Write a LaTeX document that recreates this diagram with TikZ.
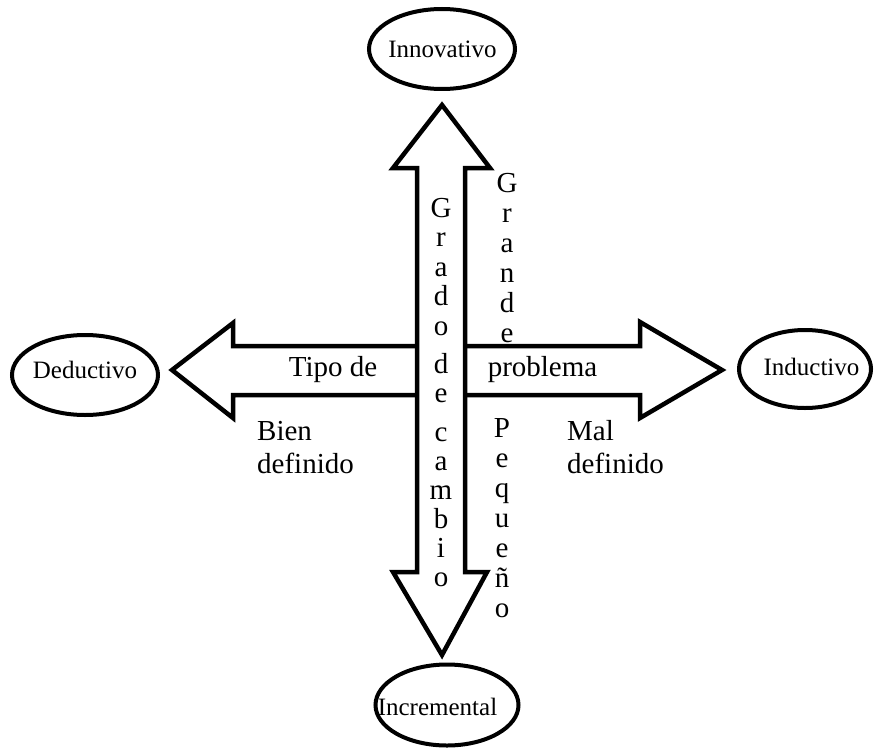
\documentclass[tikz,border=0pt]{standalone}
\usepackage{fontspec}
\setmainfont{Liberation Serif}
\usetikzlibrary{shapes.geometric}
\tikzset{
  blockarrow/.style={draw=black, fill=white, line width=4.5pt, line join=miter},
  pole/.style={draw=black, line width=4pt, ellipse, inner sep=0pt},
  poletext/.style={font=\fontsize{25}{30}\selectfont, inner sep=0pt, anchor=base},
  bigtext/.style={font=\fontsize{29}{35}\selectfont, inner sep=0pt, anchor=base},
}
\begin{document}
\begin{tikzpicture}[x=1pt, y=-1pt]
\useasboundingbox (0,0) rectangle (874,749);

% horizontal block arrow: type of problem
\path[blockarrow] (172,370) -- (233,323) -- (233,346) -- (640,346) -- (640,322)
  -- (722,370) -- (640,418) -- (640,395) -- (233,395) -- (233,418) -- cycle;

% vertical block arrow: degree of change (drawn on top)
\path[blockarrow] (442,105) -- (490,168) -- (465,168) -- (465,572) -- (487,572)
  -- (442,655) -- (393,572) -- (417,572) -- (417,168) -- (393,168) -- cycle;

% end poles
\node[pole, minimum width=146pt, minimum height=80pt] (inno) at (442,49) {};
\node[pole, minimum width=146pt, minimum height=80pt] (dedu) at (85,375) {};
\node[pole, minimum width=132pt, minimum height=78pt] (indu) at (805,369) {};
\node[pole, minimum width=143pt, minimum height=81pt] (incr) at (447,705) {};

\node[poletext] (innot) at (442.5,58) {Innovativo};
\node[poletext] (dedut) at (85,378) {Deductivo};
\node[poletext] (indut) at (811.5,375) {Inductivo};
\node[poletext] (incrt) at (437.5,715) {Incremental};

% horizontal labels
\node[bigtext] (tipo) at (333,376) {Tipo de};
\node[bigtext] (prob) at (542.5,376) {problema};
\node[bigtext, anchor=base west] (bien) at (257,440) {Bien};
\node[bigtext, anchor=base west] (bdef) at (257,473) {definido};
\node[bigtext, anchor=base west] (mal) at (567,440) {Mal};
\node[bigtext, anchor=base west] (mdef) at (567,473) {definido};

% vertical labels, one letter per line
\foreach \ch/\yy [count=\i] in {G/217, r/246.5, a/276, d/305.5, o/335, d/373, e/402.5,
    c/441, a/470, m/499, b/528, i/557, o/586}
  \node[bigtext] (grado\i) at (441,\yy) {\ch};
\foreach \ch/\yy [count=\i] in {G/192, r/222, a/252, n/282, d/312, e/342}
  \node[bigtext] (grande\i) at (507,\yy) {\ch};
\foreach \ch/\yy [count=\i] in {P/437, e/467, q/497, u/527, e/557, ñ/587, o/617}
  \node[bigtext] (peq\i) at (502,\yy) {\ch};
\end{tikzpicture}
\end{document}
